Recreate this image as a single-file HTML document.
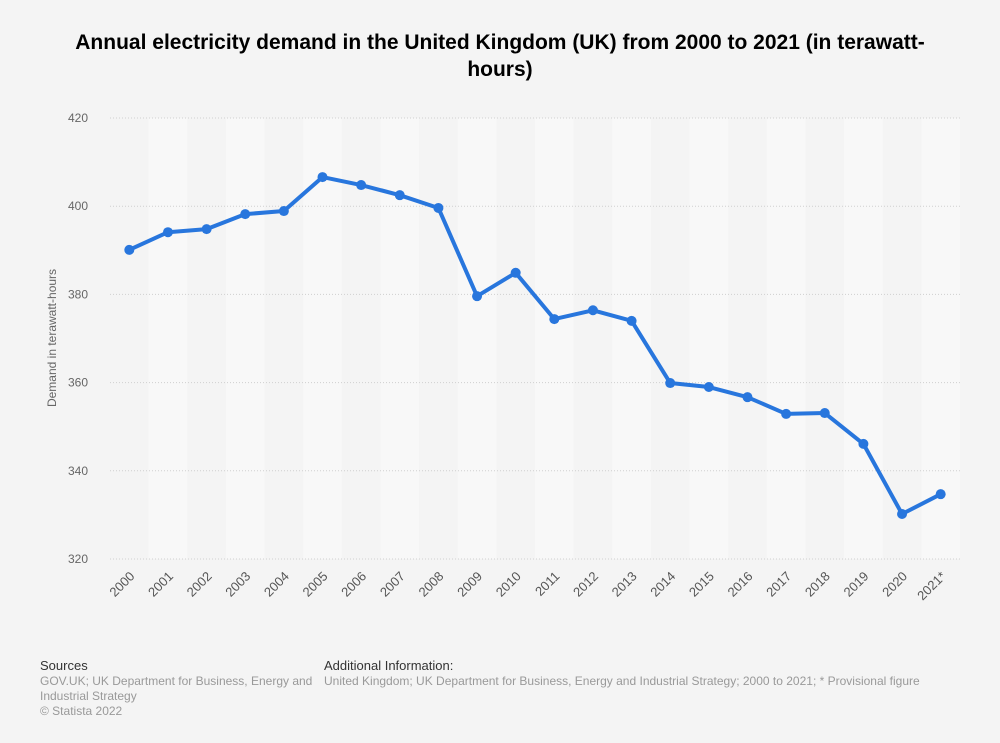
<!DOCTYPE html>
<html><head><meta charset="utf-8"><style>
body{margin:0;width:1000px;height:743px;background:#f4f4f4;font-family:"Liberation Sans",sans-serif;position:relative;overflow:hidden}
#title{position:absolute;left:70px;top:29px;width:860px;text-align:center;font-weight:bold;font-size:21px;line-height:27px;color:#000}
.foot{position:absolute;font-size:12px;color:#999;line-height:15px}
.foot b{font-weight:normal;color:#333;font-size:13px}
</style></head><body>
<div id="title">Annual electricity demand in the United Kingdom (UK) from 2000 to 2021 (in terawatt-hours)</div>
<svg id="chart" width="1000" height="743" style="position:absolute;left:0;top:0"></svg>
<div class="foot" style="left:40px;top:658px"><b>Sources</b><br>GOV.UK; UK Department for Business, Energy and<br>Industrial Strategy<br>© Statista 2022</div>
<div class="foot" style="left:324px;top:658px"><b>Additional Information:</b><br>United Kingdom; UK Department for Business, Energy and Industrial Strategy; 2000 to 2021; * Provisional figure</div>
<script>
const categories=["2000","2001","2002","2003","2004","2005","2006","2007","2008","2009","2010","2011","2012","2013","2014","2015","2016","2017","2018","2019","2020","2021*"];
const values=[390.1,394.1,394.8,398.2,398.9,406.6,404.8,402.5,399.6,379.6,384.9,374.4,376.4,374.0,359.9,359.0,356.7,352.9,353.1,346.1,330.2,334.7];
const yTicks=[320,340,360,380,400,420];
const NS="http://www.w3.org/2000/svg";
const svg=document.getElementById('chart');
const L=110,R=960,T=118,B=559,yMin=320,yMax=420;
const bw=(R-L)/categories.length;
const x=i=>L+bw*(i+0.5);
const y=v=>B-(v-yMin)/(yMax-yMin)*(B-T);
function mk(t,a){const e=document.createElementNS(NS,t);for(const k in a)e.setAttribute(k,a[k]);svg.appendChild(e);return e;}
categories.forEach((c,i)=>{if(i%2==1){const r=mk('rect',{x:L+bw*i,y:T,width:bw,height:B-T,fill:'#f8f8f8'});

}});
yTicks.forEach(t=>{const l=mk('line',{x1:L,x2:R,y1:y(t),y2:y(t),stroke:'#cfcfcf','stroke-dasharray':'1,2'});


const tx=mk('text',{x:88,y:y(t)+4,'text-anchor':'end','font-size':12,fill:'#666','font-family':'Liberation Sans, sans-serif'});tx.textContent=t;

});
const yt=mk('text',{transform:'translate(56,338) rotate(-90)','text-anchor':'middle','font-size':12,fill:'#666','font-family':'Liberation Sans, sans-serif'});yt.textContent='Demand in terawatt-hours';


categories.forEach((c,i)=>{const tx=mk('text',{transform:`translate(${x(i)+6},${577}) rotate(-45)`,'text-anchor':'end','font-size':13,fill:'#555','font-family':'Liberation Sans, sans-serif'});tx.textContent=c;

});
const p=mk('polyline',{points:values.map((v,i)=>x(i)+','+y(v)).join(' '),fill:'none',stroke:'#2876dd','stroke-width':4,'stroke-linejoin':'round'});


values.forEach((v,i)=>{const c=mk('circle',{cx:x(i),cy:y(v),r:5,fill:'#2876dd'});

});
</script>
</body></html>
